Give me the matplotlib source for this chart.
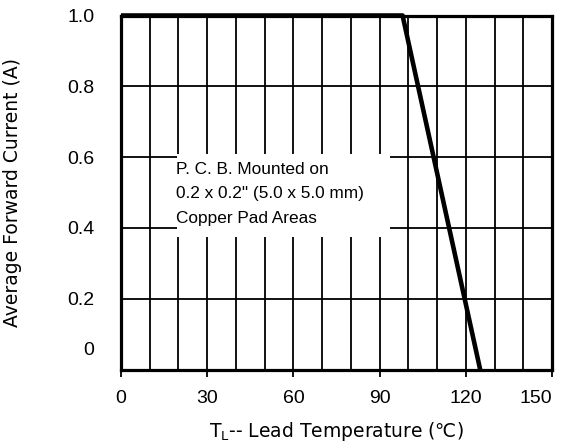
"""
Forward current derating curve
------------------------------
Average forward current vs lead temperature, P.C.B. mounted part.
"""

import matplotlib
matplotlib.use("Agg")
import matplotlib.pyplot as plt
from matplotlib.patches import Rectangle

# ── Data ─────────────────────────────────────────────────────────────────────
lead_temp   = [0, 98, 125]          # °C
fwd_current = [1.0, 1.0, 0.0]       # A

x_ticks       = [0, 30, 60, 90, 120, 150]
x_grid        = list(range(0, 151, 10))
y_ticks       = [0.0, 0.2, 0.4, 0.6, 0.8, 1.0]
y_tick_labels = ["", "0.2", "0.4", "0.6", "0.8", "1.0"]

note_lines = [
    "P. C. B. Mounted on",
    '0.2 x 0.2" (5.0 x 5.0 mm)',
    "Copper Pad Areas",
]

plt.rcParams["font.family"] = ["Liberation Sans", "DejaVu Sans"]
plt.rcParams["mathtext.fontset"] = "dejavusans"

fig = plt.figure(figsize=(5.64, 4.48), dpi=100)
ax = fig.add_axes([0.2145, 0.1752, 0.7642, 0.7902])

# ── Grid ─────────────────────────────────────────────────────────────────────
ax.set_xlim(0, 150)
ax.set_ylim(0, 1.0)
ax.set_xticks(x_ticks)
ax.set_xticks(x_grid, minor=True)
ax.set_yticks(y_ticks)
ax.set_yticklabels(y_tick_labels)
ax.grid(which="both", axis="x", color="black", lw=1.3)
ax.grid(which="major", axis="y", color="black", lw=1.3)
ax.set_axisbelow(True)

ax.tick_params(axis="x", which="major", direction="out", length=5,
               width=1.3, pad=10, labelsize=14)
ax.tick_params(axis="x", which="minor", length=0)
ax.tick_params(axis="y", length=0, pad=19, labelsize=14)

# last x label is pulled inside the frame, as in the original
ax.get_xticklabels()[-1].set_horizontalalignment("right")

# the "0" label sits well above the axis in the original
ax.annotate("0", xy=(0, 0), xycoords=("axes fraction", "data"),
            xytext=(-19, 14), textcoords="offset points",
            ha="right", va="center", fontsize=14)

for sp in ax.spines.values():
    sp.set_linewidth(2.3)
    sp.set_color("black")

# ── Note box (white patch hides the grid behind the text) ────────────────────
ax.add_patch(Rectangle((19.5, 0.374), 74.2, 0.234, facecolor="white",
                       edgecolor="none", zorder=1.5))
for i, line in enumerate(note_lines):
    ax.text(19.3, 0.566 - i * 0.0695, line, fontsize=12.4,
            ha="left", va="center", zorder=3)

# ── Curve ────────────────────────────────────────────────────────────────────
ax.plot(lead_temp, fwd_current, color="black", lw=3.3,
        solid_capstyle="butt", clip_on=False, zorder=4)

# axis titles are set wide in the original; DejaVu also carries the ℃ sign
ax.set_xlabel("T$_\\mathregular{L}$-- Lead Temperature (\u2103)",
              fontsize=13.5, family="DejaVu Sans", labelpad=9)
ax.set_ylabel("Average Forward Current (A)",
              fontsize=13.5, family="DejaVu Sans", labelpad=33)

fig.savefig("out.png", dpi=100)
